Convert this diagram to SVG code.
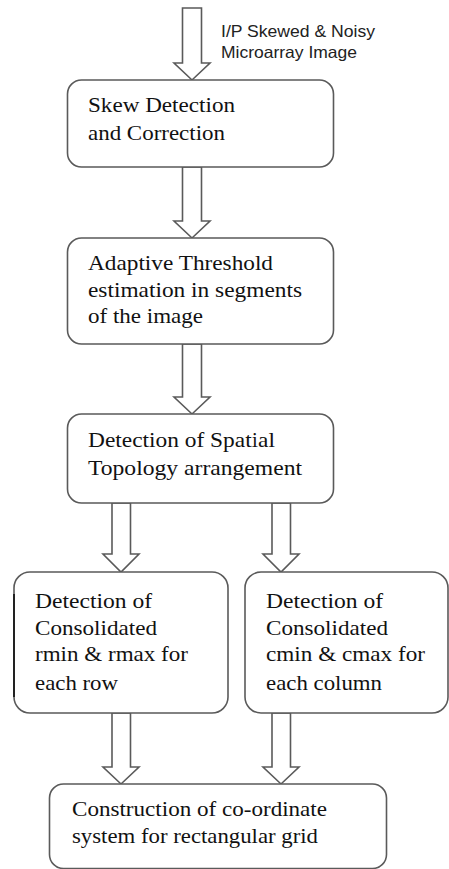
<svg xmlns="http://www.w3.org/2000/svg" width="449" height="869" viewBox="0 0 449 869">
<style>
.box{fill:#fff;stroke:#5a5a5a;stroke-width:1.6}
.arr{fill:#fff;stroke:#5a5a5a;stroke-width:1.6;stroke-linejoin:miter}
.t{font-family:"Liberation Serif","Times New Roman",serif;font-size:21px;fill:#111}
.lbl{font-family:"Liberation Sans",Arial,sans-serif;font-size:16.5px;fill:#222}
</style>
<rect width="449" height="869" fill="#fff"/>
<g id="connectors">
<polygon class="arr" points="182.5,8 201.5,8 201.5,63 210,63 192,80 174,63 182.5,63"/>
<polygon class="arr" points="182.5,167 201.5,167 201.5,221 210,221 192,238 174,221 182.5,221"/>
<polygon class="arr" points="182.5,344 201.5,344 201.5,397 210,397 192,414 174,397 182.5,397"/>
<polygon class="arr" points="112,503 130.5,503 130.5,554 139,554 121,572 103,554 112,554"/>
<polygon class="arr" points="272,503 290.5,503 290.5,554 299,554 281,572 263,554 272,554"/>
<polygon class="arr" points="112,713 130.5,713 130.5,767 139,767 121,784 103,767 112,767"/>
<polygon class="arr" points="272,713 290.5,713 290.5,767 299,767 281,784 263,767 272,767"/>
<text class="lbl" x="221" y="37" textLength="154" lengthAdjust="spacingAndGlyphs">I/P Skewed &amp; Noisy</text>
<text class="lbl" x="221" y="58" textLength="136" lengthAdjust="spacingAndGlyphs">Microarray Image</text>
</g>
<g id="n1">
<rect class="box" x="67.5" y="80" width="266" height="87" rx="14"/>
<text class="t" x="88" y="112" textLength="147" lengthAdjust="spacingAndGlyphs">Skew Detection</text>
<text class="t" x="88" y="140" textLength="137" lengthAdjust="spacingAndGlyphs">and Correction</text>
</g>
<g id="n2">
<rect class="box" x="67.5" y="238" width="266" height="106" rx="14"/>
<text class="t" x="88" y="270" textLength="185" lengthAdjust="spacingAndGlyphs">Adaptive Threshold</text>
<text class="t" x="88" y="297" textLength="214" lengthAdjust="spacingAndGlyphs">estimation in segments</text>
<text class="t" x="88" y="323" textLength="115" lengthAdjust="spacingAndGlyphs">of the image</text>
</g>
<g id="n3">
<rect class="box" x="67.5" y="414" width="266" height="89" rx="14"/>
<text class="t" x="88" y="447" textLength="187" lengthAdjust="spacingAndGlyphs">Detection of Spatial</text>
<text class="t" x="88" y="475" textLength="214" lengthAdjust="spacingAndGlyphs">Topology arrangement</text>
</g>
<g id="n4">
<rect class="box" x="14" y="572" width="214" height="141" rx="16"/>
<line x1="14" y1="594" x2="14" y2="697" stroke="#222" stroke-width="2"/>
<text class="t" x="35" y="608" textLength="117" lengthAdjust="spacingAndGlyphs">Detection of</text>
<text class="t" x="35" y="635" textLength="122" lengthAdjust="spacingAndGlyphs">Consolidated</text>
<text class="t" x="35" y="661" textLength="153" lengthAdjust="spacingAndGlyphs">rmin &amp; rmax for</text>
<text class="t" x="35" y="690" textLength="83" lengthAdjust="spacingAndGlyphs">each row</text>
</g>
<g id="n5">
<rect class="box" x="245" y="572" width="203" height="141" rx="16"/>
<text class="t" x="266" y="608" textLength="117" lengthAdjust="spacingAndGlyphs">Detection of</text>
<text class="t" x="266" y="635" textLength="122" lengthAdjust="spacingAndGlyphs">Consolidated</text>
<text class="t" x="266" y="661" textLength="159" lengthAdjust="spacingAndGlyphs">cmin &amp; cmax for</text>
<text class="t" x="266" y="690" textLength="116" lengthAdjust="spacingAndGlyphs">each column</text>
</g>
<g id="n6">
<rect class="box" x="49.5" y="784" width="337" height="84.5" rx="14"/>
<text class="t" x="72" y="816" textLength="255" lengthAdjust="spacingAndGlyphs">Construction of co-ordinate</text>
<text class="t" x="72" y="843" textLength="246" lengthAdjust="spacingAndGlyphs">system for rectangular grid</text>
</g>
</svg>
